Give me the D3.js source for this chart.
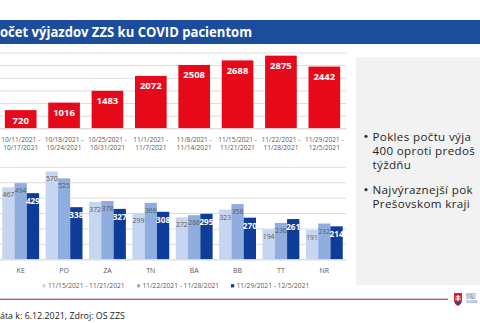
<!DOCTYPE html>
<html>
<head>
<meta charset="utf-8">
<script src="https://cdn.jsdelivr.net/npm/d3@7"></script>
<style>
  html, body { margin: 0; padding: 0; background: #fff; }
  svg { display: block; }
  text { font-family: "Open Sans", "Noto Sans", sans-serif; }
</style>
</head>
<body>
<svg id="chart" width="480" height="323"></svg>
<script>
// Weekly ambulance (ZZS) dispatches to COVID patients
const weeks = [
  ["10/11/2021 -", "10/17/2021"],
  ["10/18/2021 -", "10/24/2021"],
  ["10/25/2021 -", "10/31/2021"],
  ["11/1/2021 -", "11/7/2021"],
  ["11/8/2021 -", "11/14/2021"],
  ["11/15/2021 -", "11/21/2021"],
  ["11/22/2021 -", "11/28/2021"],
  ["11/29/2021 -", "12/5/2021"]
];
const weeklyTotals = [720, 1016, 1483, 2072, 2508, 2688, 2875, 2442];

// Per-region counts for the last three weeks
const regions = ["KE", "PO", "ZA", "TN", "BA", "BB", "TT", "NR"];
const seriesNames = ["11/15/2021 - 11/21/2021", "11/22/2021 - 11/28/2021", "11/29/2021 - 12/5/2021"];
const week1 = [467, 570, 372, 299, 272, 323, 194, 191];
const week2 = [494, 525, 378, 366, 286, 358, 236, 232];
const week3 = [429, 338, 327, 308, 295, 270, 261, 214];

const topTicks = [0, 500, 1000, 1500, 2000, 2500, 3000];
const bottomTicks = [0, 100, 200, 300, 400, 500, 600];

const bullets = [
  ["Pokles počtu výja", "400 oproti predoš", "týždňu"],
  ["Najvýraznejší pok", "Prešovskom kraji"]
];

const svg = d3.select("#chart");
const RED = "#e5091a";
const BLUE_TITLE = "#1c4c9c";
const seriesColors = ["#c6d5f0", "#8fadde", "#0d3c99"];
const GRID = "#dcdcdc";
const LABEL = "#595959";

// Title band
svg.append("rect").attr("x", 0).attr("y", 20).attr("width", 480).attr("height", 24).attr("fill", BLUE_TITLE);
svg.append("text").attr("x", 0).attr("y", 37)
  .attr("fill", "#fff").attr("font-weight", 700).attr("font-size", 14)
  .attr("textLength", 252).attr("lengthAdjust", "spacingAndGlyphs")
  .text("očet výjazdov ZZS ku COVID pacientom");

// Side panel
svg.append("rect").attr("x", 356).attr("y", 57).attr("width", 124).attr("height", 228).attr("fill", "#f2f2f2");

// ---- Top chart: weekly totals ----
const xTop = d3.scaleBand().domain(d3.range(weeks.length)).range([-1, 346])
  .paddingInner(0.27).paddingOuter(0.135);
const yTop = d3.scaleLinear().domain([0, 3000]).range([128.3, 52.5]);

const gTop = svg.append("g");
gTop.append("g").call(d3.axisLeft(yTop).tickValues(topTicks).tickSize(-347).tickFormat(""))
  .call(g => g.select(".domain").remove())
  .call(g => g.selectAll("line").attr("stroke", GRID).attr("transform", "translate(-1,0)"));

gTop.selectAll("rect.bar").data(weeklyTotals).join("rect")
  .attr("x", (d, i) => xTop(i)).attr("width", xTop.bandwidth())
  .attr("y", d => yTop(d)).attr("height", d => yTop(0) - yTop(d))
  .attr("fill", RED);

gTop.selectAll("text.val").data(weeklyTotals).join("text")
  .attr("x", (d, i) => xTop(i) + xTop.bandwidth() / 2)
  .attr("y", d => yTop(d) + 13.5)
  .attr("text-anchor", "middle").attr("fill", "#fff")
  .attr("font-weight", 700).attr("font-size", 9.5)
  .attr("font-family", "'Liberation Sans', Arial, sans-serif")
  .text(d => d);

const xAxisTop = gTop.append("g").attr("transform", `translate(0,${yTop(0)})`)
  .call(d3.axisBottom(xTop).tickSize(0).tickFormat(""));
xAxisTop.select(".domain").attr("stroke", GRID);
weeks.forEach((w, i) => {
  const t = gTop.append("text")
    .attr("x", xTop(i) + xTop.bandwidth() / 2).attr("y", 141.5)
    .attr("text-anchor", "middle").attr("fill", LABEL).attr("font-size", 6.6);
  t.append("tspan").attr("x", xTop(i) + xTop.bandwidth() / 2).text(w[0]);
  t.append("tspan").attr("x", xTop(i) + xTop.bandwidth() / 2).attr("dy", 8.7).text(w[1]);
});

// ---- Bottom chart: regional breakdown ----
const x0 = d3.scaleBand().domain(regions).range([-1, 346]).paddingInner(0.15).paddingOuter(0.075);
const x1 = d3.scaleBand().domain(d3.range(3)).range([0, x0.bandwidth()]);
const yBot = d3.scaleLinear().domain([0, 600]).range([259.3, 166.8]);

const gBot = svg.append("g");
gBot.append("g").call(d3.axisLeft(yBot).tickValues(bottomTicks).tickSize(-347).tickFormat(""))
  .call(g => g.select(".domain").remove())
  .call(g => g.selectAll("line").attr("stroke", GRID).attr("transform", "translate(-1,0)"));

const series = [week1, week2, week3];
const rows = regions.map((r, i) => ({ region: r, values: series.map(s => s[i]) }));

const groups = gBot.selectAll("g.grp").data(rows).join("g")
  .attr("transform", d => `translate(${x0(d.region)},0)`);
groups.selectAll("rect").data(d => d.values).join("rect")
  .attr("x", (d, j) => x1(j)).attr("width", x1.bandwidth())
  .attr("y", d => yBot(d)).attr("height", d => yBot(0) - yBot(d))
  .attr("fill", (d, j) => seriesColors[j]);
groups.selectAll("text").data(d => d.values).join("text")
  .attr("x", (d, j) => x1(j) + x1.bandwidth() / 2)
  .attr("y", (d, j) => yBot(d) + (j === 2 ? 11 : 10))
  .attr("text-anchor", "middle")
  .attr("font-family", "'Liberation Sans', Arial, sans-serif")
  .attr("fill", (d, j) => j === 2 ? "#fff" : LABEL)
  .attr("font-weight", (d, j) => j === 2 ? 700 : 400)
  .attr("font-size", (d, j) => j === 2 ? 8.2 : 6.8)
  .text(d => d);

const xAxisBot = gBot.append("g").attr("transform", `translate(0,${yBot(0)})`)
  .call(d3.axisBottom(x0).tickSize(0).tickPadding(9));
xAxisBot.select(".domain").attr("stroke", GRID);
xAxisBot.selectAll("text").attr("fill", LABEL).attr("font-size", 7)
  .attr("font-family", "'Open Sans', sans-serif");

// Legend
const legendX = [42.5, 137, 231];
const legend = svg.append("g");
seriesNames.forEach((name, j) => {
  legend.append("rect").attr("x", legendX[j]).attr("y", 284.2).attr("width", 3.2).attr("height", 3.2)
    .attr("fill", seriesColors[j]);
  legend.append("text").attr("x", legendX[j] + 5.5).attr("y", 288)
    .attr("fill", LABEL).attr("font-size", 6.7).text(name);
});

// Bullet points in side panel
let lineY = 140.5;
bullets.forEach((b, bi) => {
  svg.append("circle").attr("cx", 366).attr("cy", lineY - 4.2).attr("r", 1.6).attr("fill", "#333");
  b.forEach((line, li) => {
    svg.append("text").attr("x", 372.5).attr("y", lineY)
      .attr("fill", "#262626").attr("font-size", 11.6).attr("letter-spacing", 0.35).text(line);
    lineY += 14.3;
  });
  lineY += 10.5;
});

// Footer rule, source note and ministry mark
svg.append("line").attr("x1", 0).attr("x2", 448).attr("y1", 299.3).attr("y2", 299.3)
  .attr("stroke", "#b8142f").attr("stroke-width", 1.1);
svg.append("text").attr("x", 0).attr("y", 318.5).attr("fill", "#1a1a1a").attr("font-size", 8.9)
  .text("áta k: 6.12.2021, Zdroj: OS ZZS");

const logo = svg.append("g").attr("transform", "translate(454,293)");
logo.append("path").attr("d", "M0,0 H8 V7 Q8,11 4,13 Q0,11 0,7 Z").attr("fill", "#d2232a");
logo.append("path").attr("d", "M3.4,2 H4.6 V3.3 H6.3 V4.3 H4.6 V5.5 H6.8 V6.5 H4.6 V9.5 H3.4 V6.5 H1.2 V5.5 H3.4 V4.3 H1.7 V3.3 H3.4 Z")
  .attr("fill", "#fff");
logo.append("path").attr("d", "M1,9 Q4,7.5 7,9 L6.5,10.5 Q4,12.4 1.5,10.5 Z").attr("fill", "#1c4c9c");
["MINIST", "ZDRAV", "SLOVEN"].forEach((t, i) => {
  logo.append("text").attr("x", 12).attr("y", 3 + i * 3.4).attr("font-size", 3)
    .attr("fill", "#1c4c9c").text(t);
});
</script>
</body>
</html>
